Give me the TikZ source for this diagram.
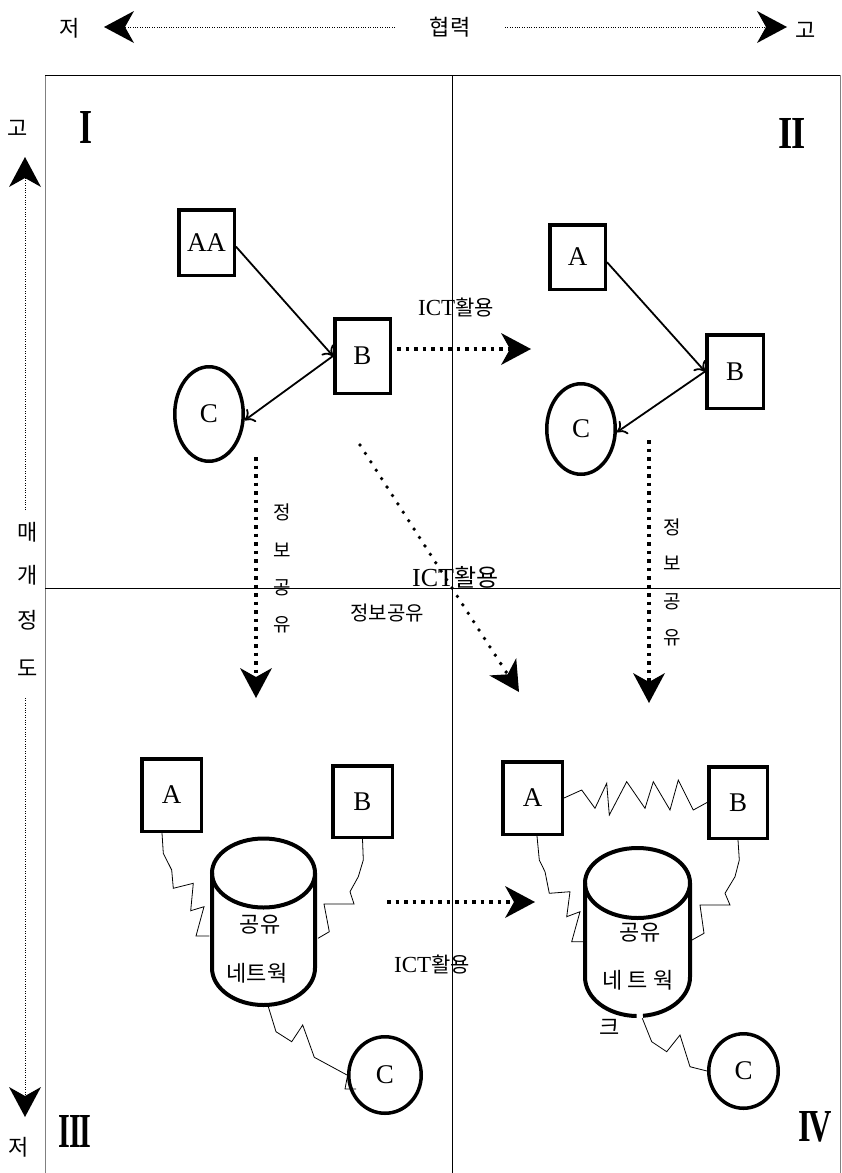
\documentclass[tikz,border=0pt]{standalone}
\usepackage{fontspec}
\usepackage{graphicx}
\setmainfont{Liberation Serif}
\newfontfamily\kr{Noto Sans CJK KR}
\usetikzlibrary{arrows.meta,shapes.geometric}
\newcommand\ictlab[2]{{\fontsize{#1}{#1}\selectfont ICT}{\kr\fontsize{#2}{#2}\selectfont 활용}}
\begin{document}
\begin{tikzpicture}[x=1pt,y=-1pt,
  every node/.style={inner sep=0pt},
  box/.style={draw, line width=3.5pt, font=\fontsize{27}{27}\selectfont},
  circ/.style={draw, ellipse, line width=3.5pt, font=\fontsize{27}{27}\selectfont},
  kt/.style={font=\kr\fontsize{22}{22}\selectfont},
  ks/.style={font=\kr\fontsize{19}{19}\selectfont},
  thinarrow/.style={line width=1.8pt, -{To[length=9pt,width=16pt]}},
  bigtip/.tip={Stealth[length=30pt,width=32pt,inset=9pt,line width=0pt]},
  sqdots/.style={line width=3.5pt, dash pattern=on 3.5pt off 5pt, -{bigtip}},
  rddots/.style={line width=3.8pt, line cap=round, dash pattern=on 0pt off 10pt, -{bigtip}},
  axisdots/.style={line width=0.8pt, dash pattern=on 0.8pt off 1.6pt, -{bigtip}},
  zig/.style={line width=0.8pt},
  cyl/.style={line width=4pt},
  frameline/.style={line width=1pt},
]
\useasboundingbox (0,0) rectangle (842,1173);

% frame
\draw[frameline, gray] (45,75) -- (45,1175);
\draw[frameline, gray] (840,75) -- (840,1175);
\draw[frameline] (45,75) -- (840,75);
\draw[frameline] (452,75) -- (452,1175);
\draw[frameline] (45,588) -- (840,588);

% top axis
\node[kt] (lo1) at (70,28) {저};
\node[kt] (coop) at (450,27) {협력};
\node[kt] (hi1) at (806,30) {고};
\coordinate (tl0) at (395,27); \coordinate (tl1) at (104,27);
\coordinate (tr0) at (505,27); \coordinate (tr1) at (787,27);
\draw[axisdots] (tl0) -- (tl1);
\draw[axisdots] (tr0) -- (tr1);

% left axis
\node[kt] (hi2) at (18,128) {고};
\node[kt] (m1) at (28,532) {매};
\node[kt] (m2) at (28,575) {개};
\node[kt] (m3) at (28,620) {정};
\node[kt] (m4) at (28,668) {도};
\node[kt] (lo2) at (19,1147) {저};
\coordinate (lu0) at (25,510); \coordinate (lu1) at (25,157);
\coordinate (ld0) at (25,698); \coordinate (ld1) at (25,1117);
\draw[axisdots] (lu0) -- (lu1);
\draw[axisdots] (ld0) -- (ld1);

% roman numerals
\node (r1) at (86,127) {\resizebox{13pt}{32pt}{\bfseries I}};
\node (r2) at (792,133) {\resizebox{27pt}{30pt}{\bfseries I\kern-0.04em I}};
\node (r3) at (75,1131) {\resizebox{33pt}{32pt}{\bfseries I\kern-0.04em I\kern-0.04em I}};
\node (r4) at (815,1127) {\resizebox{34pt}{30pt}{\bfseries I\kern-0.06em V}};

% Quadrant I
\node[box, minimum width=55.5pt, minimum height=65.5pt] (AA) at (206.5,242.5) {AA};
\node[box, minimum width=55.5pt, minimum height=74.5pt] (B1) at (362.5,356) {B};
\node[circ, minimum width=68.5pt, minimum height=94.5pt] (C1) at (209,414) {C};
\draw[thinarrow] (AA.-8) -- (B1.west);
\draw[thinarrow] (B1.west) -- (C1.-10);

% Quadrant II
\node[box, minimum width=55.5pt, minimum height=64.5pt] (A2) at (577.5,257) {A};
\node[box, minimum width=56.5pt, minimum height=73.5pt] (B2) at (735,371.5) {B};
\node[circ, minimum width=68.5pt, minimum height=90.5pt] (C2) at (581,429) {C};
\draw[thinarrow] (A2.-10) -- (B2.west);
\draw[thinarrow] (B2.west) -- (C2.-5);

% ICT arrow I -> II
\coordinate (h1s) at (397,349); \coordinate (h1e) at (531,349);
\draw[sqdots] (h1s) -- (h1e);
\node[anchor=west] (ict1) at (418,308) {\ictlab{23}{21}};

% down arrows
\coordinate (d1s) at (256,457); \coordinate (d1e) at (256,698);
\draw[sqdots] (d1s) -- (d1e);
\node[ks] (q1a) at (282,512) {정};
\node[ks] (q1b) at (282,550) {보};
\node[ks] (q1c) at (282,588) {공};
\node[ks] (q1d) at (282,625) {유};

\coordinate (d2s) at (649,440); \coordinate (d2e) at (649,703);
\draw[sqdots] (d2s) -- (d2e);
\node[ks] (q2a) at (672,527) {정};
\node[ks] (q2b) at (672,563) {보};
\node[ks] (q2c) at (672,602) {공};
\node[ks] (q2d) at (672,638) {유};

% diagonal
\coordinate (g1s) at (360,445); \coordinate (g1e) at (519,692);
\draw[rddots] (g1s) -- (g1e);
\node[anchor=west] (ict2) at (412,577) {\ictlab{26}{24}};
\node[font=\kr\fontsize{20}{20}\selectfont] (share) at (387,613) {정보공유};

% Quadrant III
\node[box, minimum width=59.5pt, minimum height=72.5pt] (A3) at (171.5,795) {A};
\node[box, minimum width=59.5pt, minimum height=71.5pt] (B3) at (362.5,801.5) {B};
\node[circ, minimum width=72.5pt, minimum height=76.5pt] (C3) at (385,1075) {C};
\draw[cyl] (263.5,873) ellipse[x radius=51.5, y radius=34.5];
\draw[cyl] (212,873) -- (212,968) arc[start angle=180, end angle=0, x radius=51.5, y radius=37] -- (315,873);
\node[kt] (t3a) at (260,925) {공유};
\node[kt] (t3b) at (257,973) {네트웍};
\draw[zig] ([xshift=-9.5pt]A3.south) -- (163.3,853.3) -- (171.7,870) -- (173.3,888.3) -- (193.3,883.3) -- (190.7,910.7) -- (204,906.7) -- (196,936) -- (209.3,936);
\draw[zig] (B3.south) -- (363.3,860) -- (358.3,876.7) -- (350,891.7) -- (354,904) -- (324,904) -- (329.3,931.7) -- (318,938.3);
\draw[zig] (268.3,1006.7) -- (276,1031.7) -- (291.7,1041.7) -- (302.7,1025) -- (314.3,1057.3) -- (C3.west);
\draw[zig] (348,1073) -- (345,1089) -- (356,1089);

% arrow III -> IV
\coordinate (h2s) at (387,902); \coordinate (h2e) at (535,902);
\draw[sqdots] (h2s) -- (h2e);
\node[anchor=west] (ict3) at (394,965) {\ictlab{23}{21}};

% Quadrant IV
\node[box, minimum width=59.5pt, minimum height=72.5pt] (A4) at (532.5,798) {A};
\node[box, minimum width=58.5pt, minimum height=71.5pt] (B4) at (738,802.5) {B};
\node[circ, minimum width=69.5pt, minimum height=74.5pt] (C4) at (743.5,1071) {C};
\draw[cyl] (637.5,883) ellipse[x radius=52.5, y radius=35];
\draw[cyl] (585,883) -- (585,977) arc[start angle=180, end angle=91, x radius=52.5, y radius=39];
\draw[cyl] (690,883) -- (690,977) arc[start angle=0, end angle=84, x radius=52.5, y radius=39];
\node[kt] (t4a) at (640,933) {공유};
\node[kt] (t4b) at (638,980) {네 트 웍};
\node[kt] (t4c) at (610,1027) {크};
\draw[zig] (A4.east) -- (581.7,790) -- (595,808.3) -- (606.7,783.3) -- (609.3,815) -- (626.7,781.7) -- (645,808.3) -- (653.3,781.7) -- (670,810) -- (678.3,780) -- (693.3,810) -- (B4.west);
\draw[zig] ([xshift=4.5pt]A4.south) -- (539.3,860) -- (545,871.7) -- (549.3,893.3) -- (570,891.7) -- (566.7,916.7) -- (580,911.7) -- (571.7,941.7) -- (583.3,941.7);
\draw[zig] (B4.south) -- (739.3,860) -- (735,876.7) -- (725,893.3) -- (730,905) -- (700,905) -- (704,933.3) -- (692,940);
\draw[zig] (642.3,1018.3) -- (651.7,1041.7) -- (666.7,1051.7) -- (680,1035) -- (690,1066.7) -- (C4.west);
\end{tikzpicture}
\end{document}
